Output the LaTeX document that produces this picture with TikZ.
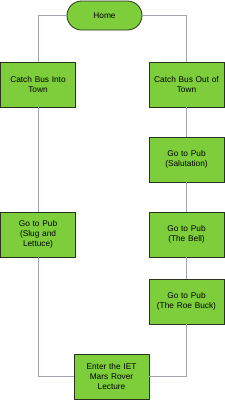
\documentclass[tikz,border=0pt]{standalone}
\usepackage{fontspec}
\setmainfont{Liberation Sans}
\definecolor{boxfill}{RGB}{125,206,58}
\definecolor{boxline}{RGB}{40,50,30}
\definecolor{linkgrey}{RGB}{160,164,176}
\begin{document}
\begin{tikzpicture}[x=1pt,y=-1pt,
  stepbox/.style={draw=boxline,fill=boxfill,line width=0.8pt,minimum width=75pt,minimum height=45pt,
    inner sep=1pt,align=center,font=\fontsize{8.3}{10}\selectfont,text width=73pt},
  termbox/.style={draw=boxline,fill=boxfill,line width=0.8pt,minimum width=75pt,minimum height=29pt,
    rounded corners=14.5pt,font=\fontsize{8.3}{10}\selectfont},
  link/.style={draw=linkgrey,line width=1pt}]
\useasboundingbox (0,0) rectangle (225,400);
\node[termbox] (home) at (104.5,15.5) {Home};
\node[stepbox] (cbin) at (38,84.5) {Catch Bus Into\\Town};
\node[stepbox] (cbout) at (186.5,84.5) {Catch Bus Out of\\Town};
\node[stepbox] (sal) at (186.5,159.5) {Go to Pub\\(Salutation)};
\node[stepbox] (slug) at (38,234.5) {Go to Pub\\(Slug and\\Lettuce)};
\node[stepbox] (bell) at (186.5,234.5) {Go to Pub\\(The Bell)};
\node[stepbox] (roe) at (186.5,301.5) {Go to Pub\\(The Roe Buck)};
\node[stepbox] (iet) at (111.5,376.5) {Enter the IET\\Mars Rover\\Lecture};
\begin{scope}[on background layer/.try]
\end{scope}
\draw[link] (home.west) -| (cbin.north);
\draw[link] (home.east) -| (cbout.north);
\draw[link] (cbin.south) -- (slug.north);
\draw[link] (slug.south) |- (iet.west);
\draw[link] (cbout.south) -- (sal.north);
\draw[link] (sal.south) -- (bell.north);
\draw[link] (bell.south) -- (roe.north);
\draw[link] (roe.south) |- (iet.east);
\end{tikzpicture}
\end{document}
